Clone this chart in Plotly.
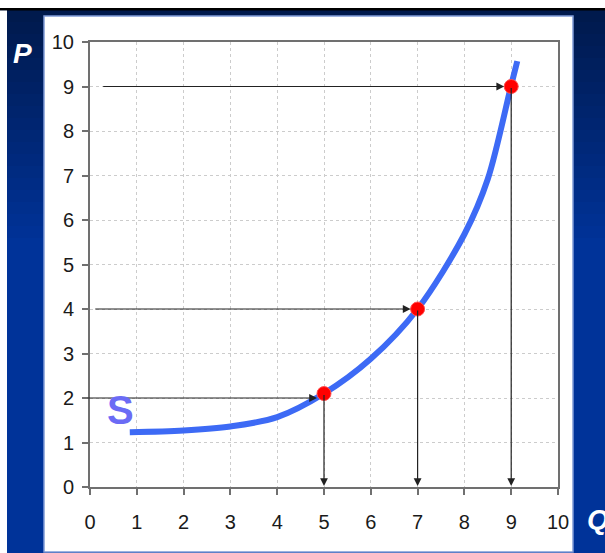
import plotly.graph_objects as go

# ---- data ----
curve_q = [0.85, 2.0, 3.0, 4.0, 5.0, 6.0, 7.0, 8.0, 8.5, 9.0, 9.13]
curve_p = [1.23, 1.27, 1.36, 1.57, 2.1, 2.88, 4.0, 5.68, 6.92, 9.03, 9.57]
point_q = [5, 7, 9]
point_p = [2.1, 4, 9]
h_arrow_p = [2, 4, 9]
h_arrow_start = [-0.08, 0.08, 0.25]
x_ticks = list(range(0, 11))
y_ticks = list(range(0, 11))

W, H = 605, 553
L, R, T, B = 90, 558, 42, 487  # plot area pixel box


def px(xp):
    return (xp - L) / (R - L)


def py(yp):
    return (B - yp) / (B - T)


fig = go.Figure()

fig.add_trace(go.Scatter(x=curve_q, y=curve_p, mode="lines",
                         line=dict(color="#3d6af5", width=6, shape="spline", smoothing=0.9),
                         hoverinfo="skip", showlegend=False))
fig.add_trace(go.Scatter(x=point_q, y=point_p, mode="markers",
                         marker=dict(color="#ff0000", size=14, line=dict(color="#ff5050", width=1)),
                         showlegend=False))

shapes = []
# background gradient bands
top_c = (0x00, 0x1a, 0x4d)
bot_c = (0x00, 0x33, 0x99)
n = 20
for i in range(n):
    y0 = 10 + i * 12
    y1 = y0 + 13
    t = i / (n - 1)
    c = tuple(int(top_c[k] + (bot_c[k] - top_c[k]) * t) for k in range(3))
    shapes.append(dict(type="rect", xref="paper", yref="paper", layer="below",
                       x0=px(0), x1=px(W), y0=py(y0), y1=py(y1),
                       fillcolor="rgb(%d,%d,%d)" % c, line=dict(width=0)))
shapes.append(dict(type="rect", xref="paper", yref="paper", layer="below",
                   x0=px(0), x1=px(W), y0=py(250), y1=py(H),
                   fillcolor="#003399", line=dict(width=0)))
# top white strip and black line
shapes.append(dict(type="rect", xref="paper", yref="paper", layer="below",
                   x0=px(0), x1=px(W), y0=py(0), y1=py(8),
                   fillcolor="white", line=dict(width=0)))
shapes.append(dict(type="rect", xref="paper", yref="paper", layer="below",
                   x0=px(0), x1=px(W), y0=py(8), y1=py(10.5),
                   fillcolor="black", line=dict(width=0)))
# left white strip
shapes.append(dict(type="rect", xref="paper", yref="paper", layer="below",
                   x0=px(0), x1=px(7), y0=py(10.5), y1=py(H),
                   fillcolor="white", line=dict(width=0)))
# white panel
shapes.append(dict(type="rect", xref="paper", yref="paper", layer="below",
                   x0=px(44), x1=px(573), y0=py(16), y1=py(552),
                   fillcolor="white", line=dict(color="#7f9ad6", width=1.5)))

fig.update_layout(shapes=shapes)

# arrows: horizontal
for xs, q, p in zip(h_arrow_start, point_q, h_arrow_p):
    fig.add_annotation(x=q, y=p, ax=xs, ay=p, xref="x", yref="y", axref="x", ayref="y",
                       showarrow=True, arrowhead=2, arrowsize=1.3, arrowwidth=1.2,
                       arrowcolor="#222", standoff=7, text="")
# arrows: vertical
for q, p in zip(point_q, point_p):
    fig.add_annotation(x=q, y=0, ax=q, ay=p, xref="x", yref="y", axref="x", ayref="y",
                       showarrow=True, arrowhead=2, arrowsize=1.3, arrowwidth=1.2,
                       arrowcolor="#222", standoff=1, text="")

fig.add_annotation(x=0.66, y=1.73, xref="x", yref="y", text="<b>S</b>", showarrow=False,
                   xanchor="center", yanchor="middle",
                   font=dict(family="Liberation Sans", size=40, color="#6b6bf5"))
fig.add_annotation(x=px(22), y=py(53), xref="paper", yref="paper", text="<b><i>P</i></b>",
                   xanchor="center", yanchor="middle",
                   showarrow=False, font=dict(family="Liberation Sans", size=28, color="white"))
fig.add_annotation(x=px(585), y=py(519), xref="paper", yref="paper", text="<b><i>Q</i></b>",
                   xanchor="left", yanchor="middle", showarrow=False,
                   font=dict(family="Liberation Sans", size=28, color="white"))

axis_common = dict(showgrid=True, gridcolor="#cccccc", griddash="dot", gridwidth=1,
                   zeroline=False, showline=True, linecolor="#707070", linewidth=2,
                   mirror=True, ticks="outside", ticklen=6, tickcolor="#707070", tickwidth=1.5,
                   tickfont=dict(family="Liberation Sans", size=20, color="#1a1a1a"))
fig.update_xaxes(range=[0, 10], tickvals=x_ticks, ticklabelstandoff=10, **axis_common)
fig.update_yaxes(range=[0, 10], tickvals=y_ticks, ticklabelstandoff=4, **axis_common)

fig.update_layout(width=W, height=H, margin=dict(l=L, r=W - R, t=T, b=H - B),
                  paper_bgcolor="#003399", plot_bgcolor="white", showlegend=False)

fig.write_html("out.html", config={"displayModeBar": False},
               post_script="document.body.style.margin='0';document.body.style.overflow='hidden';")
